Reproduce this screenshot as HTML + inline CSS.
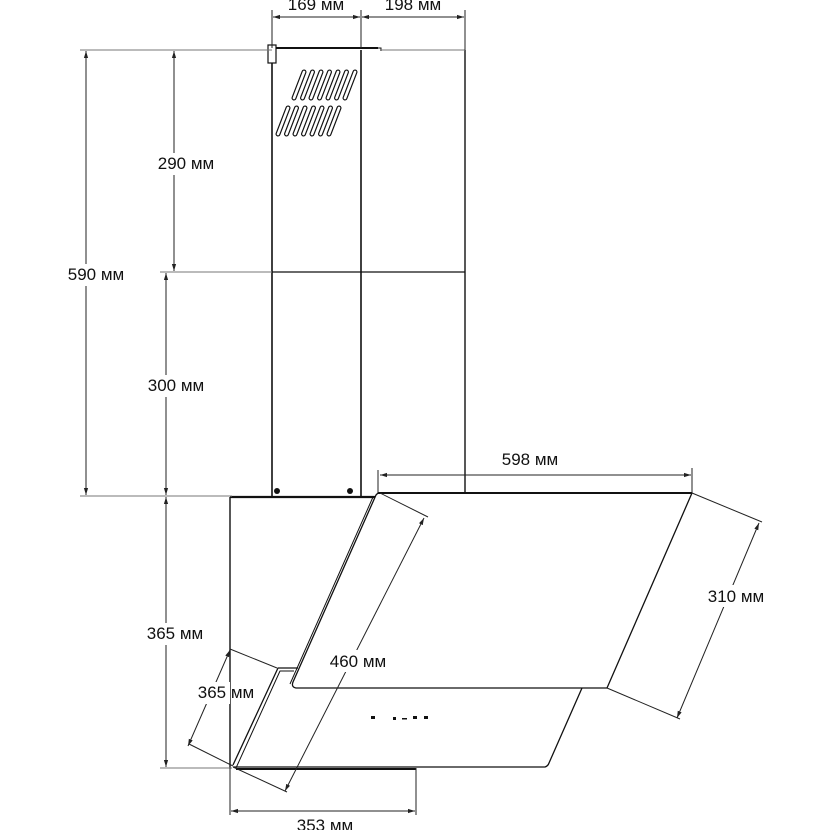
<!DOCTYPE html>
<html><head><meta charset="utf-8"><style>
html,body{margin:0;padding:0;background:#fff;}
svg{display:block;}
text{font-family:"Liberation Sans",sans-serif;font-size:17px;fill:#111;}
</style></head><body>
<svg width="830" height="830" viewBox="0 0 830 830" xmlns="http://www.w3.org/2000/svg">
<defs>
<marker id="a" viewBox="0 0 10 10" refX="10" refY="5" markerWidth="7" markerHeight="7" orient="auto-start-reverse"><path d="M0,2 L10,5 L0,8 z" fill="#222"/></marker>
</defs>
<g stroke="#111" fill="none">
<line x1="272" y1="50" x2="272" y2="496" stroke-width="1.6"/>
<line x1="361" y1="50" x2="361" y2="496" stroke-width="1.6"/>
<line x1="465" y1="50" x2="465" y2="493" stroke-width="1.4"/>
<line x1="272" y1="272" x2="465" y2="272" stroke-width="1.2"/>
<line x1="272" y1="48" x2="378" y2="48" stroke-width="2"/>
<path d="M361,48 h20 v3" stroke-width="1"/>
<rect x="268" y="45" width="8" height="18" stroke-width="1.2" fill="#fff"/>
<circle cx="277" cy="491" r="3" fill="#111" stroke="none"/>
<circle cx="350" cy="491" r="3" fill="#111" stroke="none"/>
</g>
<g stroke-linecap="round">
<g stroke="#111" stroke-width="5">
<line x1="294" y1="98" x2="304" y2="72"/><line x1="302.5" y1="98" x2="312.5" y2="72"/><line x1="311" y1="98" x2="321" y2="72"/><line x1="319.5" y1="98" x2="329.5" y2="72"/><line x1="328" y1="98" x2="338" y2="72"/><line x1="336.5" y1="98" x2="346.5" y2="72"/><line x1="345" y1="98" x2="355" y2="72"/>
<line x1="278" y1="134" x2="288" y2="108"/><line x1="286.5" y1="134" x2="296.5" y2="108"/><line x1="295" y1="134" x2="305" y2="108"/><line x1="303.5" y1="134" x2="313.5" y2="108"/><line x1="312" y1="134" x2="322" y2="108"/><line x1="320.5" y1="134" x2="330.5" y2="108"/><line x1="329" y1="134" x2="339" y2="108"/>
</g>
<g stroke="#fff" stroke-width="2.6">
<line x1="294" y1="98" x2="304" y2="72"/><line x1="302.5" y1="98" x2="312.5" y2="72"/><line x1="311" y1="98" x2="321" y2="72"/><line x1="319.5" y1="98" x2="329.5" y2="72"/><line x1="328" y1="98" x2="338" y2="72"/><line x1="336.5" y1="98" x2="346.5" y2="72"/><line x1="345" y1="98" x2="355" y2="72"/>
<line x1="278" y1="134" x2="288" y2="108"/><line x1="286.5" y1="134" x2="296.5" y2="108"/><line x1="295" y1="134" x2="305" y2="108"/><line x1="303.5" y1="134" x2="313.5" y2="108"/><line x1="312" y1="134" x2="322" y2="108"/><line x1="320.5" y1="134" x2="330.5" y2="108"/><line x1="329" y1="134" x2="339" y2="108"/>
</g>
</g>
<g stroke="#111" fill="none" stroke-linejoin="round">
<line x1="230" y1="497" x2="230" y2="768" stroke-width="1.4"/>
<line x1="230" y1="497" x2="378" y2="497" stroke-width="2.2"/>
<path d="M378,493 L692,493 L607,688 L296,688 Q291,687 293,682 L376,495 Z" stroke-width="1.3" fill="#fff"/>
<line x1="378" y1="493" x2="692" y2="493" stroke-width="2"/>
<line x1="373" y1="497" x2="290" y2="684" stroke-width="1"/>
<path d="M298,668 L278,668 L233,765" stroke-width="1.3"/>
<path d="M294,671 L280,671 L236,768" stroke-width="1"/>
<path d="M233,767 L545,767 Q548,766 549,763 L582,688" stroke-width="1.3"/>
<path d="M236,769 L416,769" stroke-width="2"/>
</g>
<g stroke="#222" stroke-width="1" fill="none">
<line x1="80" y1="50" x2="272" y2="50" stroke="#777"/>
<line x1="380" y1="50" x2="465" y2="50" stroke="#777"/>
<line x1="80" y1="496" x2="232" y2="496" stroke="#777"/>
<line x1="160" y1="272" x2="272" y2="272" stroke="#777"/>
<line x1="160" y1="768" x2="232" y2="768" stroke="#777"/>
<line x1="272" y1="10" x2="272" y2="48"/>
<line x1="361" y1="10" x2="361" y2="48"/>
<line x1="465" y1="10" x2="465" y2="50"/>
<line x1="378" y1="470" x2="378" y2="493"/>
<line x1="692" y1="468" x2="692" y2="493"/>
<line x1="230" y1="768" x2="230" y2="815"/>
<line x1="416" y1="768" x2="416" y2="815"/>
<line x1="692" y1="493" x2="762" y2="522"/>
<line x1="607" y1="688" x2="680" y2="719"/>
<line x1="380" y1="493" x2="428" y2="517"/>
<line x1="233" y1="767" x2="287" y2="792"/>
<line x1="230" y1="649" x2="277" y2="668"/>
<line x1="189" y1="744" x2="233" y2="766"/>
<line x1="273" y1="17" x2="360" y2="17" marker-start="url(#a)" marker-end="url(#a)"/>
<line x1="362" y1="17" x2="464" y2="17" marker-start="url(#a)" marker-end="url(#a)"/>
<line x1="86" y1="51" x2="86" y2="495" marker-start="url(#a)" marker-end="url(#a)"/>
<line x1="174" y1="51" x2="174" y2="271" marker-start="url(#a)" marker-end="url(#a)"/>
<line x1="166" y1="273" x2="166" y2="495" marker-start="url(#a)" marker-end="url(#a)"/>
<line x1="166" y1="497" x2="166" y2="767" marker-start="url(#a)" marker-end="url(#a)"/>
<line x1="380" y1="475" x2="691" y2="475" marker-start="url(#a)" marker-end="url(#a)"/>
<line x1="231" y1="811" x2="415" y2="811" marker-start="url(#a)" marker-end="url(#a)"/>
<line x1="759" y1="523" x2="677" y2="718" marker-start="url(#a)" marker-end="url(#a)"/>
<line x1="424" y1="518" x2="285" y2="791" marker-start="url(#a)" marker-end="url(#a)"/>
<line x1="230" y1="650" x2="188" y2="746" marker-start="url(#a)" marker-end="url(#a)"/>
</g>
<g fill="#111">
<rect x="371" y="716" width="4" height="3"/>
<rect x="393" y="717" width="3" height="3"/>
<rect x="402" y="718" width="5" height="1.5"/>
<rect x="413" y="716" width="4" height="3"/>
<rect x="424" y="716" width="4" height="3"/>
</g>
<g>
<rect x="273" y="0" width="86" height="12" fill="#fff"/>
<text x="316" y="10" text-anchor="middle">169 мм</text>
<rect x="364" y="0" width="98" height="12" fill="#fff"/>
<text x="413" y="10" text-anchor="middle">198 мм</text>
<rect x="152" y="153" width="68" height="22" fill="#fff"/>
<text x="186" y="169" text-anchor="middle">290 мм</text>
<rect x="62" y="264" width="68" height="22" fill="#fff"/>
<text x="96" y="280" text-anchor="middle">590 мм</text>
<rect x="142" y="375" width="68" height="22" fill="#fff"/>
<text x="176" y="391" text-anchor="middle">300 мм</text>
<rect x="141" y="623" width="68" height="22" fill="#fff"/>
<text x="175" y="639" text-anchor="middle">365 мм</text>
<text x="530" y="465" text-anchor="middle">598 мм</text>
<rect x="704" y="585" width="64" height="22" fill="#fff"/>
<text x="736" y="602" text-anchor="middle">310 мм</text>
<rect x="324" y="650" width="68" height="22" fill="#fff"/>
<text x="358" y="667" text-anchor="middle">460 мм</text>
<rect x="194" y="682" width="36" height="22" fill="#fff"/>
<text x="226" y="698" text-anchor="middle">365 мм</text>
<text x="325" y="831" text-anchor="middle">353 мм</text>
</g>
</svg>
</body></html>
